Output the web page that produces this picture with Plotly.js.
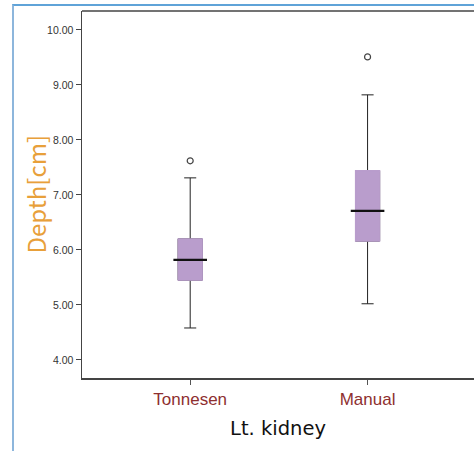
<!DOCTYPE html>
<html>
<head>
<meta charset="utf-8">
<script src="https://cdn.plot.ly/plotly-3.0.1.min.js"></script>
<style>
html,body{margin:0;padding:0;background:#fff;}
#wrap{position:relative;width:474px;height:451px;overflow:hidden;}
#chart{width:474px;height:451px;}
#frame{position:absolute;left:12px;top:4px;width:470px;height:460px;border-left:2px solid #8db6dc;border-top:2px solid #5fa3d8;pointer-events:none;}
</style>
</head>
<body>
<div id="wrap"><div id="chart"></div><div id="frame"></div></div>
<script>
const categories = ["Tonnesen", "Manual"];
const lowerWhisker = [4.58, 5.02];
const q1 = [5.45, 6.16];
const median = [5.82, 6.71];
const q3 = [6.20, 7.44];
const upperWhisker = [7.31, 8.82];
const outlierX = ["Tonnesen", "Manual"];
const outlierY = [7.62, 9.51];
const yTicks = [4, 5, 6, 7, 8, 9, 10];

const purple = "#b99dcc";
const boxW = 0.136;

const traces = [
  {
    type: "box", x: categories, q1: q1, median: median, q3: q3,
    lowerfence: lowerWhisker, upperfence: upperWhisker,
    width: boxW, whiskerwidth: 0.5, fillcolor: purple,
    line: {color: "#222", width: 1}, hoverinfo: "skip", showlegend: false
  },
  {
    type: "box", x: categories, q1: q1, median: median, q3: q3,
    lowerfence: q1, upperfence: q3,
    width: boxW, whiskerwidth: 0, fillcolor: purple,
    line: {color: purple, width: 1.2}, hoverinfo: "skip", showlegend: false
  },
  {
    type: "scatter", mode: "markers", x: categories, y: median,
    marker: {symbol: "line-ew", size: 24, line: {color: "#111", width: 2.2}},
    hoverinfo: "skip", showlegend: false
  },
  {
    type: "scatter", mode: "markers", x: outlierX, y: outlierY,
    marker: {symbol: "circle-open", size: 6, color: "#444", line: {width: 1.2, color: "#444"}},
    hoverinfo: "skip", showlegend: false
  }
];

const layout = {
  width: 474, height: 451,
  margin: {l: 82, r: 0, t: 11, b: 73},
  paper_bgcolor: "#ffffff", plot_bgcolor: "#ffffff",
  boxmode: "overlay",
  showlegend: false,
  xaxis: {
    type: "category", range: [-0.61, 1.6],
    showgrid: false, zeroline: false,
    showline: true, linecolor: "#444", linewidth: 1.5, mirror: false,
    ticks: "outside", ticklen: 5, tickcolor: "#555", tickwidth: 1,
    tickfont: {family: "Liberation Sans, Arial, sans-serif", size: 17, color: "#8e2f2f"},
    title: {text: "Lt. kidney", font: {family: "DejaVu Sans, sans-serif", size: 19.5, color: "#111"}, standoff: 13}
  },
  yaxis: {
    range: [3.67, 10.345],
    tickvals: yTicks,
    ticktext: yTicks.map(v => v.toFixed(2)),
    showgrid: false, zeroline: false,
    showline: true, linecolor: "#444", linewidth: 1.5,
    ticks: "outside", ticklen: 5, tickcolor: "#444", tickwidth: 1,
    tickfont: {family: "Liberation Sans, Arial, sans-serif", size: 10.5, color: "#333"}
  },
  annotations: [
    {text: "Depth[cm]", xref: "paper", yref: "paper", x: 0, y: 0.5, xshift: -47,
     xanchor: "center", yanchor: "middle", textangle: -90, showarrow: false,
     font: {family: "Noto Sans CJK KR, sans-serif", size: 24, color: "#e8a03a"}}
  ],
  shapes: [
    {type: "line", xref: "paper", yref: "paper", x0: 0, x1: 1, y0: 1, y1: 1, line: {color: "#444", width: 1.5}}
  ]
};

Plotly.newPlot("chart", traces, layout, {staticPlot: true, displayModeBar: false});
</script>
</body>
</html>
